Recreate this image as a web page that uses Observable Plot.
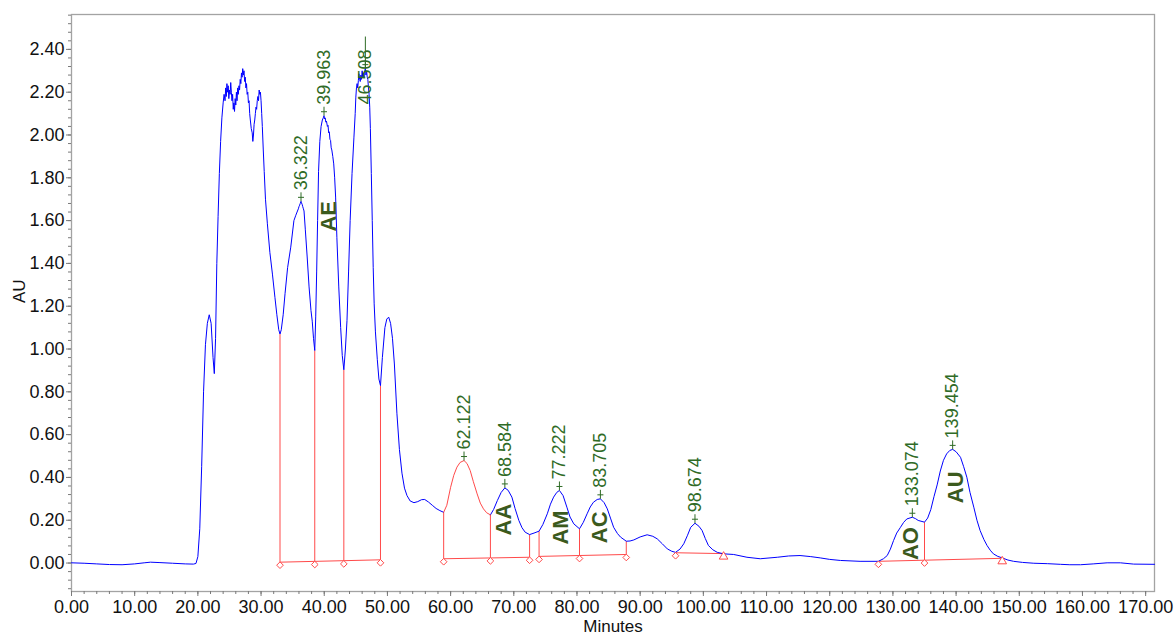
<!DOCTYPE html>
<html>
<head>
<meta charset="utf-8">
<script src="https://cdn.jsdelivr.net/npm/d3@7"></script>
<script src="https://cdn.jsdelivr.net/npm/@observablehq/plot@0.6"></script>
<style>
  html, body { margin: 0; padding: 0; background: #fff; }
  #chart svg { display: block; }
</style>
</head>
<body>
<div id="chart"></div>
<script>
// ---- Chromatogram trace, [minutes, AU], split by region ----
const startBaseline = [
  [0, 0.001], [2, -0.001], [4, -0.004], [6, -0.007], [8, -0.008], [10, -0.004],
  [11.5, 0.001], [12.5, 0.004], [14, 0.002], [16, -0.001], [18, -0.004],
  [19.3, -0.005], [19.7, -0.002]
];

const solventFront = [
  [20.0, 0.03], [20.3, 0.16], [20.6, 0.45], [20.9, 0.80], [21.2, 1.02], [21.5, 1.12],
  [21.8, 1.16], [22.1, 1.12], [22.4, 0.96], [22.6, 0.885], [22.8, 1.05], [23.0, 1.40],
  [23.2, 1.62], [23.4, 1.82], [23.6, 1.97], [23.8, 2.08], [24.0, 2.15], [24.15, 2.19],
  [24.3, 2.16], [24.4, 2.22], [24.5, 2.18], [24.6, 2.24], [24.7, 2.20], [24.8, 2.23],
  [24.9, 2.17], [25.0, 2.21], [25.1, 2.19], [25.2, 2.245], [25.3, 2.20], [25.4, 2.16],
  [25.5, 2.19], [25.6, 2.12], [25.7, 2.15], [25.8, 2.11], [25.9, 2.17], [26.0, 2.14],
  [26.1, 2.20], [26.2, 2.16], [26.3, 2.22], [26.4, 2.19], [26.5, 2.23], [26.6, 2.21],
  [26.7, 2.26], [26.8, 2.24], [26.9, 2.29], [27.0, 2.27], [27.1, 2.31], [27.2, 2.28],
  [27.3, 2.30], [27.4, 2.25], [27.5, 2.27], [27.6, 2.22], [27.7, 2.24], [27.8, 2.19],
  [27.9, 2.20], [28.0, 2.15], [28.1, 2.16], [28.2, 2.10], [28.3, 2.07], [28.45, 2.03],
  [28.6, 2.01], [28.7, 1.97], [28.8, 2.00], [28.9, 2.05], [29.0, 2.07], [29.1, 2.10],
  [29.2, 2.13], [29.3, 2.12], [29.4, 2.16], [29.5, 2.18], [29.6, 2.16], [29.7, 2.21],
  [29.8, 2.19], [29.9, 2.20], [30.0, 2.16], [30.1, 2.10], [30.2, 2.04], [30.35, 1.93],
  [30.5, 1.83], [30.7, 1.70], [31.0, 1.585], [31.4, 1.45], [31.8, 1.35], [32.2, 1.24],
  [32.5, 1.16], [32.8, 1.09], [33.0, 1.07]
];

const earlyPeaks = [
  [33.2, 1.09], [33.5, 1.16], [33.8, 1.26], [34.2, 1.38], [34.7, 1.476], [35.2, 1.60],
  [35.5, 1.625], [35.7, 1.64], [35.9, 1.655], [36.0, 1.665], [36.1, 1.672], [36.2, 1.68],
  [36.322, 1.69], [36.4, 1.683], [36.5, 1.676], [36.6, 1.665], [36.7, 1.655], [36.8, 1.645],
  [37.0, 1.56], [37.3, 1.43], [37.6, 1.29], [37.9, 1.18], [38.1, 1.13], [38.3, 1.05],
  [38.5, 0.993], [38.65, 1.15], [38.8, 1.36], [38.95, 1.60], [39.1, 1.83], [39.3, 1.97],
  [39.5, 2.04], [39.7, 2.07], [39.85, 2.08], [39.963, 2.09], [40.05, 2.075], [40.15, 2.08],
  [40.25, 2.06], [40.35, 2.065], [40.5, 2.04], [40.6, 2.045], [40.7, 2.01], [40.8, 2.015],
  [40.9, 1.98], [41.0, 1.975], [41.1, 1.94], [41.2, 1.93], [41.35, 1.90], [41.5, 1.865],
  [41.65, 1.80], [41.8, 1.71], [42.0, 1.52], [42.3, 1.29], [42.6, 1.10], [42.85, 0.97],
  [43.1, 0.903], [43.35, 1.00], [43.6, 1.133], [43.85, 1.36], [44.1, 1.60], [44.4, 1.82],
  [44.7, 1.99], [44.9, 2.10], [45.0, 2.177], [45.1, 2.22], [45.2, 2.24], [45.3, 2.22],
  [45.4, 2.255], [45.5, 2.286], [45.6, 2.26], [45.7, 2.25], [45.8, 2.28], [45.9, 2.26],
  [46.0, 2.30], [46.1, 2.27], [46.2, 2.29], [46.3, 2.27], [46.4, 2.30], [46.508, 2.31],
  [46.6, 2.28], [46.7, 2.30], [46.8, 2.27], [46.9, 2.26], [47.0, 2.22], [47.1, 2.19],
  [47.2, 2.13], [47.3, 2.03], [47.45, 1.82], [47.6, 1.60], [47.75, 1.38], [47.9, 1.211],
  [48.1, 1.08], [48.4, 0.95], [48.65, 0.86], [48.9, 0.829], [49.2, 0.96], [49.6, 1.10],
  [49.9, 1.14], [50.2, 1.149], [50.5, 1.12], [50.8, 1.05], [51.1, 0.93], [51.5, 0.70],
  [51.9, 0.53], [52.3, 0.42], [52.7, 0.35], [53.1, 0.315], [53.6, 0.29], [54.2, 0.282],
  [54.8, 0.287], [55.4, 0.296], [55.9, 0.297], [56.5, 0.285], [57.1, 0.27], [57.7, 0.255],
  [58.3, 0.245], [58.9, 0.237]
];

const middlePeaks = [
  [59.4, 0.27], [60.0, 0.354], [60.5, 0.41], [61.0, 0.448], [61.5, 0.47], [62.122, 0.479],
  [62.6, 0.465], [63.1, 0.432], [63.6, 0.38], [64.2, 0.323], [64.7, 0.28], [65.2, 0.253],
  [65.7, 0.235], [66.3, 0.225], [66.8, 0.25], [67.4, 0.292], [68.0, 0.33], [68.584, 0.351],
  [69.1, 0.34], [69.7, 0.308], [70.2, 0.255], [70.8, 0.199], [71.3, 0.165], [71.8, 0.144],
  [72.5, 0.133], [73.2, 0.14], [74.0, 0.149], [74.6, 0.18], [75.3, 0.23], [75.8, 0.275],
  [76.3, 0.308], [76.8, 0.33], [77.222, 0.339], [77.8, 0.315], [78.4, 0.261], [78.9, 0.215],
  [79.5, 0.183], [80.4, 0.16], [81.0, 0.19], [81.6, 0.23], [82.1, 0.262], [82.6, 0.284],
  [83.2, 0.297], [83.705, 0.30], [84.3, 0.282], [84.8, 0.253], [85.3, 0.21], [85.8, 0.167],
  [86.4, 0.138], [86.9, 0.121], [87.8, 0.102], [88.4, 0.103], [89.0, 0.108], [90.0, 0.122],
  [91.1, 0.132], [92.0, 0.125], [92.7, 0.113], [93.5, 0.09], [94.3, 0.066], [95.0, 0.055],
  [95.6, 0.05], [96.3, 0.065], [96.9, 0.09], [97.5, 0.13], [98.0, 0.167], [98.674, 0.186],
  [99.3, 0.172], [99.8, 0.152], [100.3, 0.115], [100.8, 0.082], [101.5, 0.062], [102.2, 0.05],
  [103.2, 0.043], [104.8, 0.04], [106.9, 0.027], [109.0, 0.02], [111.7, 0.027], [113.5, 0.033],
  [115.3, 0.035], [117.0, 0.03], [118.5, 0.024], [120.0, 0.017], [121.7, 0.012], [124.8, 0.008]
];

const latePeaks = [
  [127.7, 0.008], [128.5, 0.02], [129.1, 0.035], [129.6, 0.065], [130.1, 0.105], [130.6, 0.14],
  [131.2, 0.167], [131.7, 0.19], [132.2, 0.206], [133.074, 0.214], [133.6, 0.207], [134.0, 0.199],
  [135.0, 0.191], [135.5, 0.21], [136.0, 0.25], [136.5, 0.31], [137.0, 0.365], [137.5, 0.43],
  [138.0, 0.48], [138.5, 0.51], [139.0, 0.526], [139.454, 0.531], [140.0, 0.52], [140.7, 0.494],
  [141.2, 0.45], [141.7, 0.401], [142.2, 0.33], [142.8, 0.261], [143.3, 0.2], [143.8, 0.152],
  [144.4, 0.11], [144.9, 0.082], [145.4, 0.06], [145.9, 0.043], [146.6, 0.031], [147.3, 0.024],
  [148.2, 0.014], [149.1, 0.008], [150.5, 0.003], [152.3, -0.001], [154.5, -0.003], [156.5, -0.006],
  [158.0, -0.008], [159.7, -0.008], [161.7, -0.004], [163.9, 0.001], [166.0, 0.001], [168.1, -0.005],
  [171.4, -0.006]
];

// ---- Detected peaks: retention time (min) and apex height (AU) ----
const peakTimes   = [36.322, 39.963, 46.508, 62.122, 68.584, 77.222, 83.705, 98.674, 133.074, 139.454];
const peakHeights = [1.69, 2.09, 2.31, 0.479, 0.351, 0.339, 0.30, 0.186, 0.214, 0.531];

// ---- Named compounds ----
const compoundNames  = ["AE", "AA", "AM", "AC", "AO", "AU"];
const compoundTimes  = [40.8, 68.5, 77.5, 83.6, 132.8, 139.9];
const compoundLevels = [1.62, 0.203, 0.166, 0.167, 0.091, 0.354];

// ---- Integration: baseline segments, drop lines, start/end marks ----
const baselineStartTimes  = [33.0, 58.9, 74.0, 95.6, 127.7];
const baselineStartLevels = [0.004, 0.020, 0.031, 0.048, 0.008];
const baselineEndTimes    = [48.9, 72.5, 87.8, 103.2, 147.3];
const baselineEndLevels   = [0.015, 0.027, 0.040, 0.044, 0.022];

const dropTimes  = [33.0, 38.5, 43.1, 48.9, 58.9, 66.3, 72.5, 74.0, 80.4, 87.8, 135.0];
const dropBase   = [0.004, 0.007, 0.010, 0.015, 0.020, 0.024, 0.027, 0.031, 0.035, 0.040, 0.014];
const dropTop    = [1.07, 0.993, 0.903, 0.829, 0.237, 0.225, 0.133, 0.149, 0.16, 0.102, 0.191];

const diamondTimes  = [33.0, 38.5, 43.1, 48.9, 58.9, 66.3, 72.5, 74.0, 80.4, 87.8, 95.6, 127.7, 135.0];
const diamondLevels = [0.004, 0.007, 0.010, 0.015, 0.020, 0.024, 0.027, 0.031, 0.035, 0.040, 0.048, 0.008, 0.014];
const triangleTimes  = [103.2, 147.3];
const triangleLevels = [0.044, 0.022];

// Integrated peak whose trace is drawn highlighted
const highlightFrom = 58.9, highlightTo = 66.3;

// ---- Axes ----
const xTicks = [0, 10, 20, 30, 40, 50, 60, 70, 80, 90, 100, 110, 120, 130, 140, 150, 160, 170];
const yTicks = [0, 0.2, 0.4, 0.6, 0.8, 1.0, 1.2, 1.4, 1.6, 1.8, 2.0, 2.2, 2.4];
const xMinor = d3.range(0, 171, 2);
const yMinor = d3.range(-0.12, 2.561, 0.04);

// ---- Layout ----
const width = 1175, height = 634;
const marginLeft = 71, marginRight = 21, marginTop = 14, marginBottom = 43;
const xDomain = [0, 171.4], yDomain = [-0.133, 2.563];
const xPerPx = (xDomain[1] - xDomain[0]) / (width - marginLeft - marginRight);
const yPerPx = (yDomain[1] - yDomain[0]) / (height - marginTop - marginBottom);

const labelCeiling = 2.40;   // retention labels never rise past this level
const leaderTop = 2.46;      // leader line for labels pushed below the ceiling
const labelSpanPx = 64;      // tick gap + text length of a retention label

const green = "#2f6b26";
const nameGreen = "#3b5a1d";
const red = "#ff4a4a";
const blue = "#0000ff";

const trace = [...startBaseline, ...solventFront, ...earlyPeaks, ...middlePeaks, ...latePeaks]
  .map(([t, au]) => ({t, au}));
const inHighlight = d => d.t > highlightFrom && d.t < highlightTo;
const highlighted = trace.filter(d => d.t >= highlightFrom && d.t <= highlightTo);

const peaks = peakTimes.map((t, i) => ({t, au: peakHeights[i]}));
peaks.forEach(p => { p.clamped = p.au + labelSpanPx * yPerPx > labelCeiling; });
const freePeaks = peaks.filter(p => !p.clamped);
const clampedPeaks = peaks.filter(p => p.clamped);

const baselines = baselineStartTimes.map((t, i) => ({
  x1: t, y1: baselineStartLevels[i], x2: baselineEndTimes[i], y2: baselineEndLevels[i]
}));
const drops = dropTimes.map((t, i) => ({t, base: dropBase[i], top: dropTop[i]}));
const diamonds = diamondTimes.map((t, i) => ({t, au: diamondLevels[i]}));
const triangles = triangleTimes.map((t, i) => ({t, au: triangleLevels[i]}));
const compounds = compoundNames.map((name, i) => ({name, t: compoundTimes[i], au: compoundLevels[i]}));

const fontFamily = "'Liberation Sans', Arial, Helvetica, sans-serif";

const chart = Plot.plot({
  width, height, marginLeft, marginRight, marginTop, marginBottom,
  style: {fontFamily, fontSize: "18px", color: "#111", background: "#fff", overflow: "visible"},
  x: {domain: xDomain, label: null},
  y: {domain: yDomain, label: null},
  marks: [
    Plot.frame({stroke: "#a3a3a3", strokeWidth: 1.3}),

    // minor and major ticks
    Plot.axisY(yMinor, {tickSize: 3, tickFormat: () => "", stroke: "#7a7a7a", label: null}),
    Plot.axisY(yTicks, {tickSize: 5, tickPadding: 2, tickFormat: d => d.toFixed(2), stroke: "#7a7a7a", fontSize: 18, label: null}),
    Plot.axisX(xMinor, {tickSize: 3, tickFormat: () => "", stroke: "#7a7a7a", label: null}),
    Plot.axisX(xTicks, {tickSize: 5, tickPadding: 4, tickFormat: d => d.toFixed(2), stroke: "#7a7a7a", fontSize: 18, label: null}),

    // axis titles
    Plot.text(["AU"], {frameAnchor: "left", dx: -52, rotate: -90, fontSize: 17, fill: "#111"}),
    Plot.text(["Minutes"], {frameAnchor: "bottom", lineAnchor: "middle", dy: 35, fontSize: 17, fill: "#111"}),

    // integration baselines and drop lines
    Plot.link(baselines, {x1: "x1", y1: "y1", x2: "x2", y2: "y2", stroke: red, strokeWidth: 1}),
    Plot.link(drops, {x1: "t", x2: "t", y1: "base", y2: "top", stroke: red, strokeWidth: 1}),

    // detector trace; the highlighted peak is drawn in red instead of blue
    Plot.line(trace, {x: "t", y: d => inHighlight(d) ? NaN : d.au, stroke: blue, strokeWidth: 1}),
    Plot.line(highlighted, {x: "t", y: "au", stroke: red, strokeWidth: 1}),

    // integration start / end marks
    Plot.dot(diamonds, {x: "t", y: "au", symbol: "diamond2", r: 3, stroke: red, fill: "#fff", strokeWidth: 1, dy: 3}),
    Plot.dot(triangles, {x: "t", y: "au", symbol: "triangle", r: 3.2, stroke: red, fill: "#fff", strokeWidth: 1, dy: 3}),

    // apex ticks
    Plot.link(peaks, {x1: "t", x2: "t", y1: "au", y2: d => d.au + 9 * yPerPx, stroke: green, strokeWidth: 1}),
    Plot.link(peaks, {
      x1: d => d.t - 3 * xPerPx, x2: d => d.t + 3 * xPerPx,
      y1: d => d.au + 4 * yPerPx, y2: d => d.au + 4 * yPerPx,
      stroke: green, strokeWidth: 1
    }),
    Plot.link(clampedPeaks, {x1: "t", x2: "t", y1: "au", y2: () => leaderTop, stroke: green, strokeWidth: 1}),

    // retention time labels
    Plot.text(freePeaks, {
      x: "t", y: "au", text: d => d.t.toFixed(3), rotate: -90, textAnchor: "start",
      dy: -11, fontSize: 18, fill: green
    }),
    Plot.text(clampedPeaks, {
      x: "t", y: () => labelCeiling, text: d => d.t.toFixed(3), rotate: -90, textAnchor: "end",
      fontSize: 18, fill: green
    }),

    // compound names
    Plot.text(compounds, {
      x: "t", y: "au", text: "name", rotate: -90, fontSize: 22, fontWeight: "bold", fill: nameGreen
    })
  ]
});

document.getElementById("chart").append(chart);
</script>
</body>
</html>
